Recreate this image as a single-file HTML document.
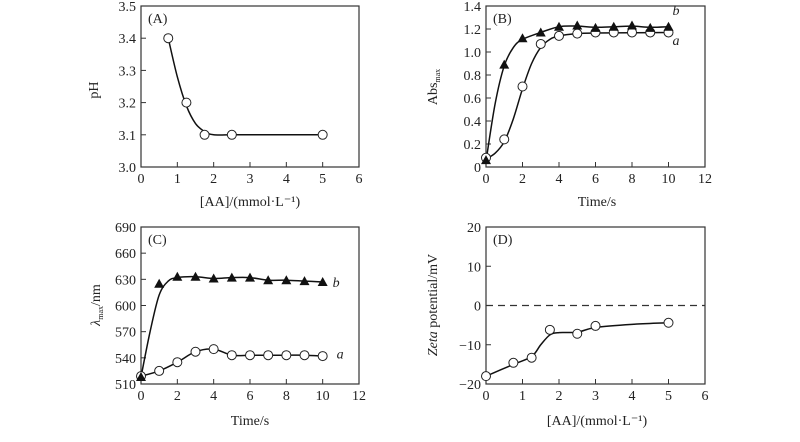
<!DOCTYPE html>
<html><head><meta charset="utf-8"><style>
body{margin:0;background:#fff}
svg{display:block}
text{font-family:"Liberation Serif",serif;fill:#222}
</style></head><body>
<svg id="fig" width="800" height="442" viewBox="0 0 800 442" xmlns="http://www.w3.org/2000/svg"></svg>
<script>
// Panel A
const aX=[0.75,1.25,1.75,2.5,5];
const aY=[3.4,3.2,3.1,3.1,3.1];
const aFitX=[0.75,1,1.25,1.5,1.75,2,2.5,3,5];
const aFitY=[3.4,3.28,3.19,3.135,3.11,3.1,3.1,3.1,3.1];
const aXTicks=[0,1,2,3,4,5,6];
const aYTicks=[3.0,3.1,3.2,3.3,3.4,3.5];
// Panel B
const bTime=[0,1,2,3,4,5,6,7,8,9,10];
const bA=[0.08,0.24,0.70,1.07,1.14,1.16,1.17,1.17,1.17,1.17,1.17];
const bB=[0.06,0.89,1.12,1.17,1.22,1.23,1.21,1.22,1.23,1.21,1.22];
const bFitAX=[0,0.5,1,1.5,2,2.5,3,3.5,4,5,6,10];
const bFitAY=[0.07,0.12,0.22,0.42,0.68,0.9,1.04,1.11,1.14,1.16,1.165,1.17];
const bFitBX=[0,0.5,1,1.5,2,3,4,5,6,7,8,9,10];
const bFitBY=[0.05,0.55,0.88,1.04,1.11,1.17,1.22,1.225,1.215,1.22,1.225,1.215,1.22];
const bXTicks=[0,2,4,6,8,10,12];
const bYTicks=[0,0.2,0.4,0.6,0.8,1.0,1.2,1.4];
// Panel C
const cTime=[0,1,2,3,4,5,6,7,8,9,10];
const cA=[519,525,535,547,550,543,543,543,543,543,542];
const cB=[518,625,633,633,631,632,632,629,629,628,627];
const cFitBX=[0,0.5,1,1.5,2,3,4,5,6,7,8,9,10];
const cFitBY=[518,570,612,628,632,633,631,632,632,629,629,628,627];
const cXTicks=[0,2,4,6,8,10,12];
const cYTicks=[510,540,570,600,630,660,690];
// Panel D
const dX=[0,0.75,1.25,1.75,2.5,3,5];
const dY=[-18,-14.6,-13.3,-6.2,-7.2,-5.2,-4.4];
const dFitX=[0,0.75,1.25,1.5,1.75,2,2.5,3,4,5];
const dFitY=[-18,-15,-13,-10,-7.5,-6.9,-6.8,-5.6,-4.8,-4.4];
const dXTicks=[0,1,2,3,4,5,6];
const dYTicks=[-20,-10,0,10,20];

const svg=document.getElementById('fig');
const NS='http://www.w3.org/2000/svg';
function mk(tag,attrs,parent,name,txt){
  const e=document.createElementNS(NS,tag);
  for(const k in attrs)e.setAttribute(k,attrs[k]);
  
  
  if(txt!==undefined)e.textContent=txt;
  (parent||svg).appendChild(e);return e;
}
function panel(o){
  const g=mk('g',{},svg,o.name);
  const sx=v=>o.l+(v-o.x0)/(o.x1-o.x0)*(o.r-o.l);
  const sy=v=>o.b-(v-o.y0)/(o.y1-o.y0)*(o.b-o.t);
  mk('rect',{x:o.l,y:o.t,width:o.r-o.l,height:o.b-o.t,fill:'none',stroke:'#333','stroke-width':1.2},g,'plot-frame');
  o.xt.forEach(v=>{const x=sx(v);
    mk('line',{x1:x,x2:x,y1:o.b,y2:o.b-5,stroke:'#333'},g,'x-tick');
    mk('text',{x:x,y:o.b+16,'text-anchor':'middle','font-size':14},g,'x-tick-label',String(v));});
  o.yt.forEach(v=>{const y=sy(v);
    mk('line',{x1:o.l,x2:o.l+5,y1:y,y2:y,stroke:'#333'},g,'y-tick');
    mk('text',{x:o.l-5,y:y+5,'text-anchor':'end','font-size':14},g,'y-tick-label',o.fmt?o.fmt(v):String(v));});
  mk('text',{x:o.l+7,y:o.t+17,'font-size':14},g,'panel-label',o.label);
  return {g,sx,sy};
}
function curve(p,xs,ys,name){
  const pts=xs.map((x,i)=>[p.sx(x),p.sy(ys[i])]);
  let d='M'+pts[0][0]+','+pts[0][1];
  for(let i=0;i<pts.length-1;i++){
    const p0=pts[Math.max(0,i-1)],p1=pts[i],p2=pts[i+1],p3=pts[Math.min(pts.length-1,i+2)];
    const c1=[p1[0]+(p2[0]-p0[0])/6,p1[1]+(p2[1]-p0[1])/6];
    const c2=[p2[0]-(p3[0]-p1[0])/6,p2[1]-(p3[1]-p1[1])/6];
    d+=` C${c1[0]},${c1[1]} ${c2[0]},${c2[1]} ${p2[0]},${p2[1]}`;
  }
  mk('path',{d:d,fill:'none',stroke:'#111','stroke-width':1.5},p.g,name);
}
function circles(p,xs,ys,name){xs.forEach((x,i)=>mk('circle',{cx:p.sx(x),cy:p.sy(ys[i]),r:4.5,fill:'#fff',stroke:'#222','stroke-width':1},p.g,name));}
function tris(p,xs,ys,name){xs.forEach((x,i)=>{const cx=p.sx(x),cy=p.sy(ys[i]);
  mk('polygon',{points:`${cx-5},${cy+4} ${cx+5},${cy+4} ${cx},${cy-5}`,fill:'#111'},p.g,name);});}

// A
const A=panel({name:'panel-a-ph',l:141,r:359,t:6,b:167,x0:0,x1:6,y0:3.0,y1:3.5,xt:aXTicks,yt:aYTicks,fmt:v=>v.toFixed(1),label:'(A)'});
curve(A,aFitX,aFitY,'ph-fit-curve');circles(A,aX,aY,'ph-point');
mk('text',{x:250,y:206,'text-anchor':'middle','font-size':14},svg,'x-axis-title-a','[AA]/(mmol·L⁻¹)');
mk('text',{x:0,y:0,transform:'translate(98,90) rotate(-90)','text-anchor':'middle','font-size':14},svg,'y-axis-title-a','pH');
// B
const B=panel({name:'panel-b-abs',l:486,r:705,t:6,b:167,x0:0,x1:12,y0:0,y1:1.4,xt:bXTicks,yt:bYTicks,fmt:v=>v===0?'0':v.toFixed(1),label:'(B)'});
curve(B,bFitAX,bFitAY,'abs-fit-a');curve(B,bFitBX,bFitBY,'abs-fit-b');
circles(B,bTime,bA,'abs-point-a');tris(B,bTime,bB,'abs-point-b');
mk('text',{x:B.sx(10)+4,y:B.sy(1.32),'font-size':14,'font-style':'italic'},svg,'series-label-b','b');
mk('text',{x:B.sx(10)+4,y:B.sy(1.06),'font-size':14,'font-style':'italic'},svg,'series-label-a','a');
mk('text',{x:597,y:206,'text-anchor':'middle','font-size':14},svg,'x-axis-title-b','Time/s');
const ty=mk('text',{x:0,y:0,transform:'translate(437,87) rotate(-90)','text-anchor':'middle','font-size':14},svg,'y-axis-title-b','Abs');
mk('tspan',{'font-size':8,dy:3},ty,'subscript','max');
// C
const C=panel({name:'panel-c-lambda',l:141,r:359,t:227,b:384,x0:0,x1:12,y0:510,y1:690,xt:cXTicks,yt:cYTicks,label:'(C)'});
curve(C,cTime,cA,'lambda-fit-a');curve(C,cFitBX,cFitBY,'lambda-fit-b');
circles(C,cTime,cA,'lambda-point-a');tris(C,cTime,cB,'lambda-point-b');
mk('text',{x:C.sx(10)+10,y:C.sy(627)+5,'font-size':14,'font-style':'italic'},svg,'series-label-b','b');
mk('text',{x:C.sx(10)+14,y:C.sy(545)+5,'font-size':14,'font-style':'italic'},svg,'series-label-a','a');
mk('text',{x:250,y:425,'text-anchor':'middle','font-size':14},svg,'x-axis-title-c','Time/s');
const tl=mk('text',{x:0,y:0,transform:'translate(100,305) rotate(-90)','text-anchor':'middle','font-size':14},svg,'y-axis-title-c','');
mk('tspan',{'font-style':'italic'},tl,'lambda','λ');
mk('tspan',{'font-size':8,dy:3},tl,'subscript','max');
mk('tspan',{dy:-3},tl,'unit','/nm');
// D
const D=panel({name:'panel-d-zeta',l:486,r:705,t:227,b:384,x0:0,x1:6,y0:-20,y1:20,xt:dXTicks,yt:dYTicks,fmt:v=>v<0?'−'+(-v):String(v),label:'(D)'});
mk('line',{x1:486,x2:705,y1:D.sy(0),y2:D.sy(0),stroke:'#333','stroke-width':1.2,'stroke-dasharray':'7,5'},D.g,'zero-reference-line');
curve(D,dFitX,dFitY,'zeta-fit-curve');circles(D,dX,dY,'zeta-point');
mk('text',{x:597,y:425,'text-anchor':'middle','font-size':14},svg,'x-axis-title-d','[AA]/(mmol·L⁻¹)');
const tz=mk('text',{x:0,y:0,transform:'translate(437,305) rotate(-90)','text-anchor':'middle','font-size':14},svg,'y-axis-title-d','');
mk('tspan',{'font-style':'italic'},tz,'zeta','Zeta');
mk('tspan',{},tz,'rest',' potential/mV');
</script>
</body></html>
